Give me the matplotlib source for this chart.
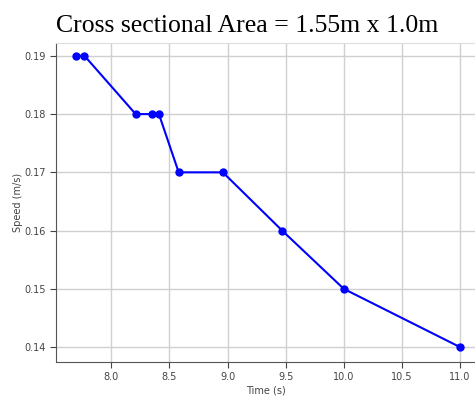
import matplotlib
matplotlib.use("Agg")
import matplotlib.pyplot as plt

# values
time_s = [7.70, 7.77, 8.21, 8.35, 8.41, 8.58, 8.96, 9.47, 10.0, 11.0]
speed = [0.19, 0.19, 0.18, 0.18, 0.18, 0.17, 0.17, 0.16, 0.15, 0.14]
x_ticks = [8.0, 8.5, 9.0, 9.5, 10.0, 10.5, 11.0]
y_ticks = [0.14, 0.15, 0.16, 0.17, 0.18, 0.19]

fig = plt.figure(figsize=(4.75, 3.97), dpi=100)
ax = fig.add_axes([56 / 475, 35 / 397, 1 - 56 / 475, (362 - 43) / 397])

ax.plot(time_s, speed, color='blue', marker='o', markersize=5, linewidth=1.5)

ax.set_xlim(7.525, 11.128)
ax.set_ylim(0.13745, 0.1922)
ax.set_xticks(x_ticks)
ax.set_xticklabels([f"{t:.1f}" for t in x_ticks])
ax.set_yticks(y_ticks)
ax.set_yticklabels([f"{t:.2f}" for t in y_ticks])
ax.tick_params(labelsize=7, colors='#444444', length=4)
ax.grid(True, color='#d0d0d0', linewidth=1)

ax.spines['right'].set_visible(False)
ax.spines['top'].set_color('#dddddd')
ax.spines['left'].set_color('#555555')
ax.spines['bottom'].set_color('#555555')

ax.set_xlabel('Time (s)', fontsize=7, color='#444444', labelpad=2)
ax.set_ylabel('Speed (m/s)', fontsize=7, color='#444444', labelpad=1)

fig.text(0.521, 0.92, 'Cross sectional Area = 1.55m x 1.0m',
         ha='center', va='baseline', fontsize=18.5, family='Liberation Serif')

fig.savefig('out.png', dpi=100)
